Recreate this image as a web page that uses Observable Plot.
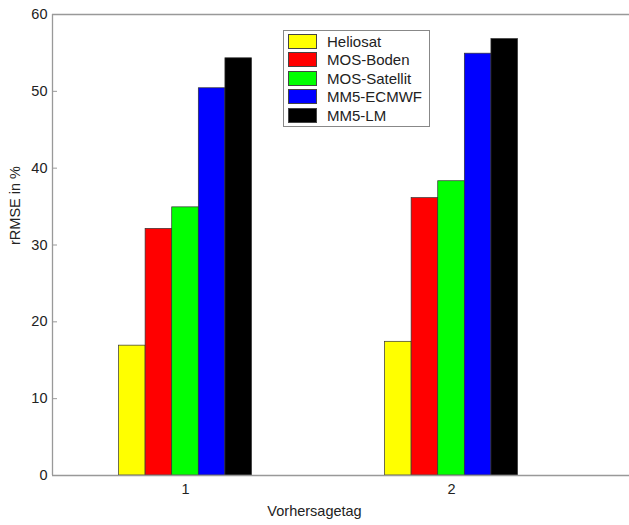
<!DOCTYPE html>
<html><head><meta charset="utf-8">
<script src="https://cdn.jsdelivr.net/npm/d3@7"></script>
<script src="https://cdn.jsdelivr.net/npm/@observablehq/plot@0.6"></script>
<style>
body{margin:0;background:#fff;}
#wrap{position:relative;width:629px;height:525px;font-family:"Liberation Sans",Arial,Helvetica,sans-serif;color:#222;}
#legend{position:absolute;left:283px;top:30px;width:147px;height:97px;border:1px solid #888;background:#fff;box-sizing:border-box;padding-top:1px;}
.row{display:flex;align-items:center;height:18.5px;}
.sw{width:29px;height:15px;margin-left:4px;margin-right:10px;border:1px solid #444;box-sizing:border-box;}
.lab{font-size:15px;line-height:15px;}
</style></head>
<body><div id="wrap"></div>
<script>
const days = [1, 2];
const series = ["Heliosat", "MOS-Boden", "MOS-Satellit", "MM5-ECMWF", "MM5-LM"];
const colors = ["#ffff00", "#ff0000", "#00ff00", "#0000ff", "#000000"];
const day1 = [16.9, 32.1, 34.9, 50.4, 54.3];
const day2 = [17.4, 36.1, 38.3, 54.9, 56.8];
const yTicks = [0, 10, 20, 30, 40, 50, 60];
const xLabel = "Vorhersagetag";
const yLabel = "rRMSE in %";

const values = [day1, day2];
const rows = [];
days.forEach((d, g) => series.forEach((s, i) => {
  rows.push({day: d, series: s, value: values[g][i], x1: d - 0.25 + i * 0.1, x2: d - 0.15 + i * 0.1});
}));

const chart = Plot.plot({
  width: 629, height: 525,
  marginLeft: 52, marginRight: 0, marginTop: 14, marginBottom: 50,
  x: {type: "linear", domain: [0.5, 2.669]},
  y: {domain: [0, 60]},
  color: {domain: series, range: colors},
  style: {fontFamily: '"Liberation Sans", Arial, Helvetica, sans-serif', fontSize: "14.5px", color: "#222", background: "#fff"},
  marks: [
    Plot.rect(rows, {x1: "x1", x2: "x2", y1: 0, y2: "value", fill: "series", stroke: "#333", strokeWidth: 0.7}),
    Plot.ruleY([0, 60], {stroke: "#999", strokeWidth: 1.3}),
    Plot.ruleX([0.5], {stroke: "#999", strokeWidth: 1.3}),
    Plot.axisY({ticks: yTicks, tickSize: -5, tickPadding: 10, label: null, stroke: "#999"}),
    Plot.axisX({ticks: days, tickSize: 0, tickPadding: 8, tickFormat: d => String(d), label: null}),
    Plot.text([yLabel], {frameAnchor: "left", dx: -37, rotate: -90, fontSize: 14.5}),
    Plot.text([xLabel], {x: () => 1.5, frameAnchor: "bottom", dy: 40, dx: -4, fontSize: 14.5})
  ]
});
const wrap = document.getElementById("wrap");
wrap.appendChild(chart);
chart.style.position = "absolute"; chart.style.left = "0"; chart.style.top = "0";

const leg = document.createElement("div");
leg.id = "legend";
series.forEach((s, i) => {
  const r = document.createElement("div"); r.className = "row";
  const sw = document.createElement("div"); sw.className = "sw"; sw.style.background = colors[i];
  const lb = document.createElement("span"); lb.className = "lab"; lb.textContent = s;
  r.appendChild(sw); r.appendChild(lb); leg.appendChild(r);
});
wrap.appendChild(leg);
</script></body></html>
